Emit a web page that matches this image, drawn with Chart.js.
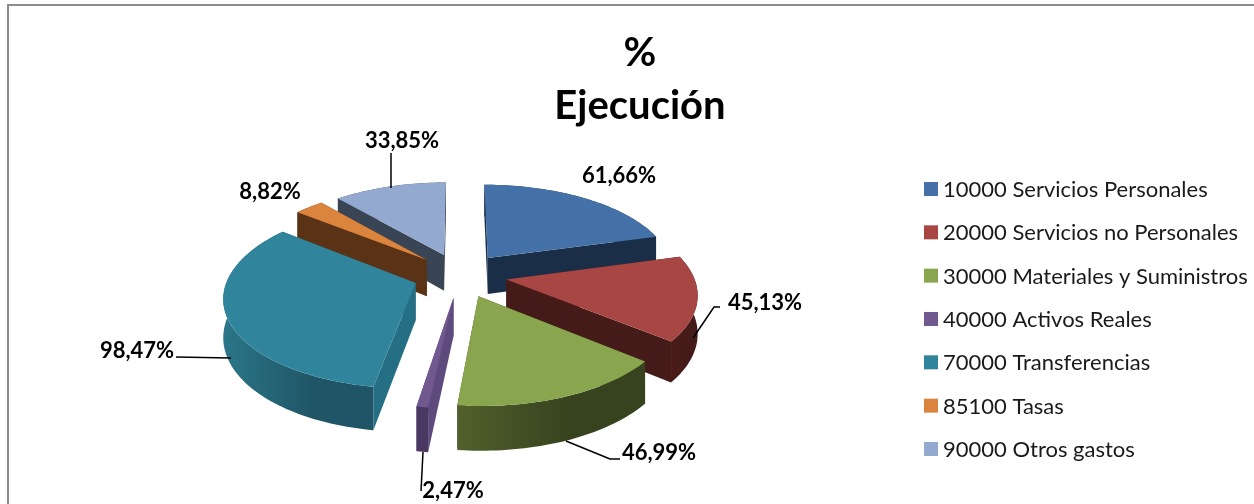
<!DOCTYPE html>
<html>
<head>
<meta charset="utf-8">
<title>% Ejecución</title>
<script src="https://cdn.jsdelivr.net/npm/chart.js@4"></script>
<style>
  html, body { margin: 0; padding: 0; background: #fff; overflow: hidden; }
  #frame { position: absolute; left: 7px; top: 4px; right: 0; bottom: 0; border-left: 2px solid #8c8c8c; border-top: 2px solid #8c8c8c; }
  canvas { position: absolute; left: 0; top: 0; }
</style>
</head>
<body>
<div id="frame"></div>
<canvas id="pieChart" width="1254" height="504"></canvas>
<script>
// Chart data
const categories = [
  '10000 Servicios Personales',
  '20000 Servicios no Personales',
  '30000 Materiales y Suministros',
  '40000 Activos Reales',
  '70000 Transferencias',
  '85100 Tasas',
  '90000 Otros gastos'
];
const ejecucion = [61.66, 45.13, 46.99, 2.47, 98.47, 8.82, 33.85];

// Slice styling
const topColors = ['#4471a7', '#a84644', '#89a54e', '#71588f', '#30849c', '#db843d', '#93a9cf'];
const cutColors = ['#1b2e48', '#441b18', '#38451f', '#5f4a7d', '#256f84', '#5a3316', '#394555'];
const wallLeft = ['#1b2e48', '#4a1c19', '#51602c', '#4a3863', '#2b7689', '#5a3316', '#394555'];
const wallRight = ['#1b2e48', '#441b18', '#36431e', '#4a3863', '#1f5566', '#5a3316', '#394555'];

// Where each value label sits, and its leader line if it has one
const labelPlacement = [
  { x: 619, y: 176 },
  { x: 765, y: 303, leader: [[720, 307], [714, 307], [693, 338]] },
  { x: 659, y: 453, leader: [[620, 459], [610, 459], [566, 441]] },
  { x: 453, y: 491, leader: [[423, 452], [421, 491]] },
  { x: 137, y: 351, leader: [[176, 357], [231, 358]] },
  { x: 270, y: 192 },
  { x: 402, y: 141, leader: [[391, 153], [391, 188]] }
];

// View settings of the tilted pie
const view = { cx: 460, cy: 275, radius: 187, tilt: 0.47, perspective: 0.00075, depth: 37 };
const textFont = 'Lato, Carlito, "Open Sans", sans-serif';

// Map a point of the pie plane on the screen; y grows towards the viewer
function project(x, y, z) {
  const s = 1 / (1 - view.perspective * y);
  return [view.cx + x * s, view.cy + view.tilt * y * s + z * s];
}

function fillPath(ctx, points, fill) {
  ctx.beginPath();
  points.forEach(function(p, i) {
    if (i === 0) ctx.moveTo(p[0], p[1]);
    else ctx.lineTo(p[0], p[1]);
  });
  ctx.closePath();
  ctx.fillStyle = fill;
  ctx.fill();
}

// Draws the arcs computed by the pie controller as exploded 3D wedges
const pie3d = {
  id: 'pie3d',
  beforeDatasetsDraw: function(chart) {
    const ctx = chart.ctx;
    const arcs = chart.getDatasetMeta(0).data;

    const slices = arcs.map(function(arc, index) {
      const mid = (arc.startAngle + arc.endAngle) / 2;
      const ox = Math.cos(mid) * arc.options.offset;
      const oy = Math.sin(mid) * arc.options.offset;
      const rim = [];
      const steps = Math.max(4, Math.round((arc.endAngle - arc.startAngle) * 40));
      for (let i = 0; i <= steps; i++) {
        const a = arc.startAngle + (arc.endAngle - arc.startAngle) * i / steps;
        rim.push([ox + Math.cos(a) * view.radius, oy + Math.sin(a) * view.radius]);
      }
      return { index: index, ox: ox, oy: oy, rim: rim };
    });

    // Back slices first so the front ones cover them
    slices.sort(function(a, b) { return a.oy - b.oy; });

    slices.forEach(function(slice) {
      const i = slice.index;
      const first = slice.rim[0];
      const last = slice.rim[slice.rim.length - 1];
      const apexTop = project(slice.ox, slice.oy, 0);
      const apexBottom = project(slice.ox, slice.oy, view.depth);

      // Cut faces
      fillPath(ctx, [apexTop, project(first[0], first[1], 0), project(first[0], first[1], view.depth), apexBottom], cutColors[i]);
      fillPath(ctx, [apexTop, project(last[0], last[1], 0), project(last[0], last[1], view.depth), apexBottom], cutColors[i]);

      // Outer wall
      const upper = slice.rim.map(function(p) { return project(p[0], p[1], 0); });
      const lower = slice.rim.map(function(p) { return project(p[0], p[1], view.depth); }).reverse();
      const xs = upper.map(function(p) { return p[0]; });
      const gradient = ctx.createLinearGradient(Math.min.apply(null, xs), 0, Math.max.apply(null, xs), 0);
      gradient.addColorStop(0, wallLeft[i]);
      gradient.addColorStop(0.6, wallRight[i]);
      gradient.addColorStop(1, wallRight[i]);
      fillPath(ctx, upper.concat(lower), gradient);

      // Top face
      fillPath(ctx, [apexTop].concat(upper), topColors[i]);
    });

    // Skip the flat arcs of the controller
    return false;
  },
  afterDraw: function(chart) {
    const ctx = chart.ctx;
    ctx.save();

    // Leader lines and value labels
    ctx.strokeStyle = '#000';
    ctx.lineWidth = 1.5;
    ctx.fillStyle = '#000';
    ctx.font = 'bold 22px ' + textFont;
    ctx.textAlign = 'center';
    ctx.textBaseline = 'middle';
    chart.data.datasets[0].data.forEach(function(value, i) {
      const place = labelPlacement[i];
      if (place.leader) {
        ctx.beginPath();
        place.leader.forEach(function(p, j) {
          if (j === 0) ctx.moveTo(p[0], p[1]);
          else ctx.lineTo(p[0], p[1]);
        });
        ctx.stroke();
      }
      ctx.fillText(value.toFixed(2).replace('.', ',') + '%', place.x, place.y);
    });

    // Legend, the built-in one keeps too wide a gap after the box
    ctx.font = '22px ' + textFont;
    ctx.textAlign = 'left';
    chart.data.labels.forEach(function(label, i) {
      const y = 189 + i * 43.33;
      ctx.fillStyle = topColors[i];
      ctx.fillRect(924, y - 7, 14, 14);
      ctx.fillStyle = '#1a1a1a';
      ctx.fillText(label, 943, y + 1);
    });

    ctx.restore();
  }
};

new Chart(document.getElementById('pieChart'), {
  type: 'pie',
  data: {
    labels: categories,
    datasets: [
      {
        data: ejecucion,
        backgroundColor: topColors,
        borderWidth: 0,
        offset: 47
      }
    ]
  },
  plugins: [pie3d],
  options: {
    responsive: false,
    animation: false,
    layout: { padding: { left: 26 } },
    plugins: {
      legend: { display: false },
      tooltip: { enabled: false },
      title: {
        display: true,
        text: ['%', 'Ejecución'],
        color: '#000',
        font: { family: textFont, size: 40, weight: 'bold', lineHeight: 1.32 },
        padding: { top: 27, bottom: 10 }
      }
    }
  }
});
</script>
</body>
</html>
